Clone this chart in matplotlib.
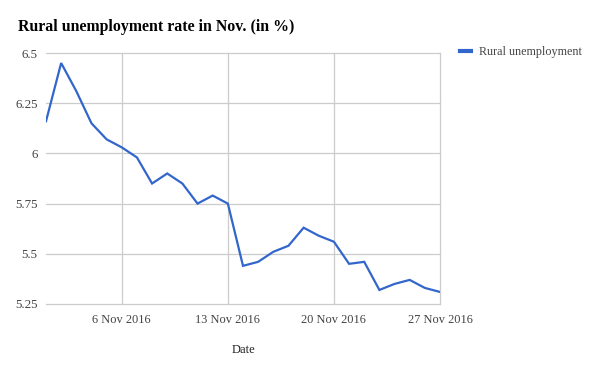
import matplotlib
matplotlib.use("Agg")
import matplotlib.pyplot as plt
import datetime as dt

dates = [dt.date(2016, 11, d) for d in range(1, 28)]
values = [6.16, 6.45, 6.31, 6.15, 6.07, 6.03, 5.98, 5.85, 5.90, 5.85,
          5.75, 5.79, 5.75, 5.44, 5.46, 5.51, 5.54, 5.63, 5.59, 5.56,
          5.45, 5.46, 5.32, 5.35, 5.37, 5.33, 5.31]
y_ticks = [5.25, 5.5, 5.75, 6, 6.25, 6.5]
y_tick_labels = ["5.25", "5.5", "5.75", "6", "6.25", "6.5"]
x_ticks = [dt.date(2016, 11, d) for d in (6, 13, 20, 27)]
x_tick_labels = ["6 Nov 2016", "13 Nov 2016", "20 Nov 2016", "27 Nov 2016"]

plt.rcParams['font.family'] = ['Liberation Serif', 'DejaVu Serif']

W, H = 600, 371
fig = plt.figure(figsize=(6, 3.71), dpi=100)
ax = fig.add_axes([46 / W, 1 - 304 / H, (440 - 46) / W, (304 - 53) / H])

line, = ax.plot(dates, values, color="#3366CC", lw=1.6, label="Rural unemployment",
                solid_joinstyle="miter", zorder=3)

ax.set_xlim(dates[0], dates[-1])
ax.set_ylim(5.25, 6.5)
ax.set_yticks(y_ticks)
ax.set_yticklabels(y_tick_labels)
ax.set_xticks(x_ticks)
ax.set_xticklabels(x_tick_labels)
ax.grid(True, color="#cccccc", lw=0.9)
for gl in ax.get_xgridlines() + ax.get_ygridlines():
    gl.set_clip_on(False)
ax.set_axisbelow(True)
for s in ax.spines.values():
    s.set_visible(False)
ax.tick_params(length=0, colors="#444444")
ax.tick_params(axis="x", pad=7, labelsize=8.9)
ax.tick_params(axis="y", pad=6, labelsize=9.4)
ax.set_xlabel("Date", fontsize=9, color="#222222", labelpad=13)

fig.text(18 / W, 1 - 27 / H, "Rural unemployment rate in Nov. (in %)",
         fontsize=11.4, fontweight="bold", va="center", ha="left", color="#000000")

leg = fig.legend(handles=[line], loc="center left", bbox_to_anchor=(460 / W, 1 - 52 / H),
                 frameon=False, fontsize=8.7, handlelength=0.9, handletextpad=0.7,
                 borderaxespad=0, borderpad=0)
for t in leg.get_texts():
    t.set_color("#444444")
leg.get_lines()[0].set_linewidth(3)

fig.savefig("out.png", dpi=100)
